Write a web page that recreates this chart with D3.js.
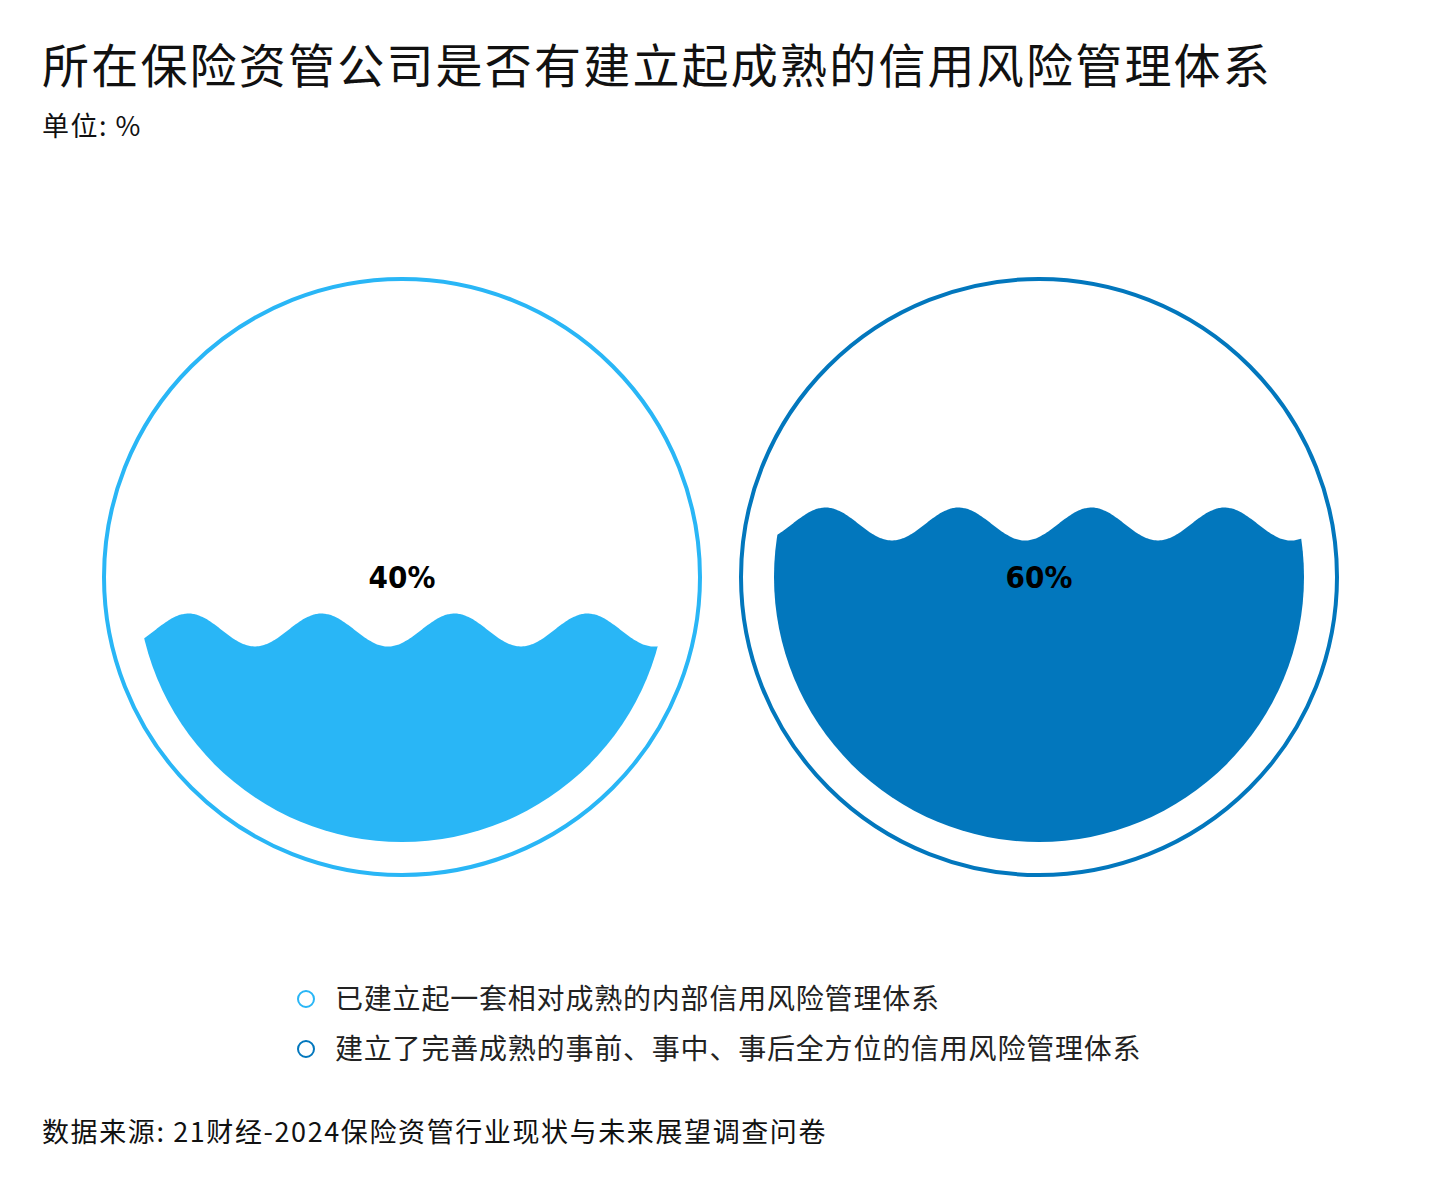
<!DOCTYPE html>
<html lang="zh">
<head>
<meta charset="UTF-8">
<title>信用风险管理体系</title>
<script src="https://cdn.jsdelivr.net/npm/d3@7"></script>
<style>
  html, body { margin: 0; padding: 0; background: #fff; }
  svg text { font-family: "Noto Sans CJK SC", "Noto Sans", sans-serif; }
</style>
</head>
<body>
<div id="chart"></div>
<script>
const title = "所在保险资管公司是否有建立起成熟的信用风险管理体系"
const unit = "单位: %"
const source = "数据来源: 21财经-2024保险资管行业现状与未来展望调查问卷"
const categories = ["已建立起一套相对成熟的内部信用风险管理体系", "建立了完善成熟的事前、事中、事后全方位的信用风险管理体系"]
const values = [40, 60]
const colors = ["#29b6f6", "#0277bd"]

const W = 1440, H = 1184
const svg = d3.select("#chart").append("svg").attr("width", W).attr("height", H)

svg.append("text").attr("x", 42).attr("y", 83).attr("font-size", 47).attr("font-weight", 400)
  .attr("letter-spacing", 2.2).attr("fill", "#111").text(title)
svg.append("text").attr("x", 42).attr("y", 136).attr("font-size", 27)
  .attr("letter-spacing", 1.5).attr("fill", "#111").text(unit)

// gauge positions
const x = d3.scalePoint().domain(categories).range([402, 1039])
const cy = 577, outerR = 298, innerR = 265
// fill level: 0..100 -> bottom..top of inner circle
const level = d3.scaleLinear().domain([0, 100]).range([cy + innerR, cy - innerR])
const amp = 16.5, waveLen = 133

categories.forEach((c, i) => {
  const cx = x(c)
  const g = svg.append("g")
  g.append("circle").attr("cx", cx).attr("cy", cy).attr("r", outerR)
    .attr("fill", "none").attr("stroke", colors[i]).attr("stroke-width", 4)

  const clipId = "clip" + i
  svg.append("clipPath").attr("id", clipId).append("circle")
    .attr("cx", cx).attr("cy", cy).attr("r", innerR)

  const yl = level(values[i])
  const trough = cx - 14
  const pts = d3.range(cx - innerR - 5, cx + innerR + 6, 2).map(px =>
    [px, yl + amp * Math.cos(2 * Math.PI * (px - trough) / waveLen)])
  const area = d3.area().x(d => d[0]).y0(cy + innerR + 10).y1(d => d[1]).curve(d3.curveBasis)
  g.append("path").attr("d", area(pts)).attr("fill", colors[i]).attr("clip-path", `url(#${clipId})`)

  g.append("text").attr("x", cx).attr("y", cy).attr("dy", "0.35em")
    .attr("text-anchor", "middle").attr("font-size", 31).attr("font-weight", "bold")
    .style("font-family", "'DejaVu Sans Condensed', 'Liberation Sans Narrow', sans-serif")
    .attr("fill", "#000").text(values[i] + "%")
})

// legend
const ly = d3.scalePoint().domain(categories).range([999, 1049])
const lg = svg.append("g")
categories.forEach((c, i) => {
  lg.append("circle").attr("cx", 306).attr("cy", ly(c)).attr("r", 8)
    .attr("fill", "#fff").attr("stroke", colors[i]).attr("stroke-width", 2)
  lg.append("text").attr("x", 335).attr("y", ly(c)).attr("dy", "0.36em")
    .attr("font-size", 28).attr("letter-spacing", 0.8).attr("fill", "#222").text(c)
})

svg.append("text").attr("x", 42).attr("y", 1142).attr("font-size", 27)
  .attr("letter-spacing", 1.6).attr("fill", "#111").text(source)
</script>
</body>
</html>
